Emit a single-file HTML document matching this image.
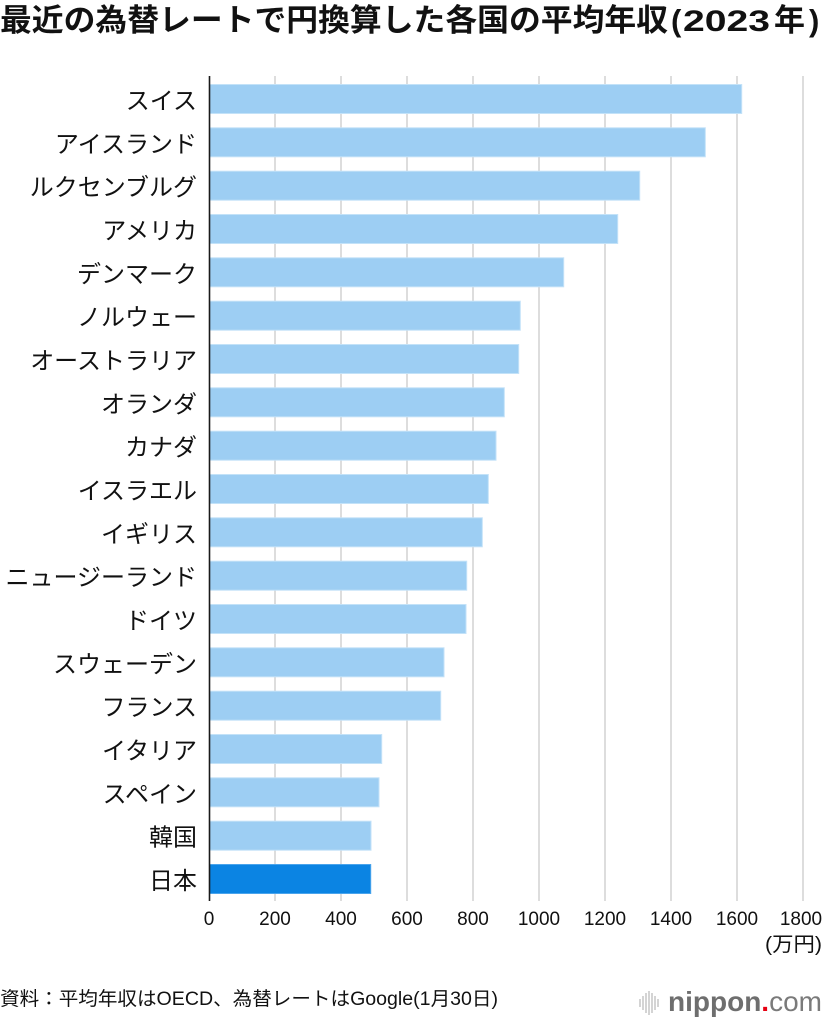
<!DOCTYPE html>
<html><head><meta charset="utf-8"><style>
html,body{margin:0;padding:0;background:#fff;}
svg{display:block;}
</style></head><body>
<svg width="828" height="1024" viewBox="0 0 828 1024" xmlns="http://www.w3.org/2000/svg">
<rect width="828" height="1024" fill="#fff"/>
<!-- title -->
<g font-family="'Liberation Sans','Noto Sans CJK JP',sans-serif" font-weight="bold" fill="#111">
<text x="0" y="31" font-size="31" textLength="668" lengthAdjust="spacingAndGlyphs">最近の為替レートで円換算した各国の平均年収</text>
<text x="671" y="31" font-size="31">(</text>
<text x="683" y="31" font-size="30" textLength="87" lengthAdjust="spacingAndGlyphs">2023</text>
<text x="774" y="31" font-size="31" font-family="'Noto Sans CJK JP',sans-serif">年</text>
<text x="809" y="31" font-size="31">)</text>
</g>
<!-- grid -->
<g stroke="#d2d2d2" stroke-width="1.5">
<line x1="275" y1="76" x2="275" y2="901"/>
<line x1="341" y1="76" x2="341" y2="901"/>
<line x1="407" y1="76" x2="407" y2="901"/>
<line x1="473" y1="76" x2="473" y2="901"/>
<line x1="539" y1="76" x2="539" y2="901"/>
<line x1="605" y1="76" x2="605" y2="901"/>
<line x1="671" y1="76" x2="671" y2="901"/>
<line x1="737" y1="76" x2="737" y2="901"/>
<line x1="803" y1="76" x2="803" y2="901"/>
</g>
<!-- bars -->
<g fill="#9dcef3" stroke="#c3e2f8" stroke-width="1">
<rect x="209.5" y="84.5" width="532.2" height="29"/>
<rect x="209.5" y="127.8" width="495.8" height="29"/>
<rect x="209.5" y="171.2" width="430.2" height="29"/>
<rect x="209.5" y="214.5" width="408.2" height="29"/>
<rect x="209.5" y="257.8" width="354.2" height="29"/>
<rect x="209.5" y="301.2" width="310.8" height="29"/>
<rect x="209.5" y="344.5" width="309.2" height="29"/>
<rect x="209.5" y="387.8" width="294.8" height="29"/>
<rect x="209.5" y="431.2" width="286.5" height="29"/>
<rect x="209.5" y="474.5" width="278.8" height="29"/>
<rect x="209.5" y="517.8" width="272.8" height="29"/>
<rect x="209.5" y="561.2" width="257.2" height="29"/>
<rect x="209.5" y="604.5" width="256.5" height="29"/>
<rect x="209.5" y="647.8" width="234.5" height="29"/>
<rect x="209.5" y="691.2" width="231.2" height="29"/>
<rect x="209.5" y="734.5" width="172.2" height="29"/>
<rect x="209.5" y="777.8" width="169.5" height="29"/>
<rect x="209.5" y="821.2" width="161.5" height="29"/>
</g>
<rect x="209.5" y="864.5" width="161.2" height="29" fill="#0b84e3" stroke="#4aa4ec" stroke-width="1"/>
<!-- axis -->
<line x1="209.5" y1="76" x2="209.5" y2="901" stroke="#1a1a1a" stroke-width="1.6"/>
<!-- labels -->
<g font-family="'Liberation Sans','Noto Sans CJK JP',sans-serif" font-size="24" fill="#111" text-anchor="end">
<text x="197" y="109">スイス</text>
<text x="197" y="152.3">アイスランド</text>
<text x="197" y="195.7">ルクセンブルグ</text>
<text x="197" y="239">アメリカ</text>
<text x="197" y="282.3">デンマーク</text>
<text x="197" y="325.7">ノルウェー</text>
<text x="197" y="369">オーストラリア</text>
<text x="197" y="412.3">オランダ</text>
<text x="197" y="455.7">カナダ</text>
<text x="197" y="499">イスラエル</text>
<text x="197" y="542.3">イギリス</text>
<text x="197" y="585.7">ニュージーランド</text>
<text x="197" y="629">ドイツ</text>
<text x="197" y="672.3">スウェーデン</text>
<text x="197" y="715.7">フランス</text>
<text x="197" y="759">イタリア</text>
<text x="197" y="802.3">スペイン</text>
<text x="197" y="845.7">韓国</text>
<text x="197" y="889">日本</text>
</g>
<!-- ticks -->
<g font-family="'Liberation Sans',sans-serif" font-size="19" fill="#111" text-anchor="middle">
<text x="209" y="925">0</text>
<text x="275" y="925">200</text>
<text x="341" y="925">400</text>
<text x="407" y="925">600</text>
<text x="473" y="925">800</text>
<text x="539" y="925">1000</text>
<text x="605" y="925">1200</text>
<text x="671" y="925">1400</text>
<text x="737" y="925">1600</text>
<text x="801" y="925">1800</text>
</g>
<text x="765" y="951" font-family="'Liberation Sans','Noto Sans CJK JP',sans-serif" font-size="20" fill="#111" textLength="57" lengthAdjust="spacingAndGlyphs">(万円)</text>
<!-- footer -->
<text x="0" y="1005" font-family="'Liberation Sans','Noto Sans CJK JP',sans-serif" font-size="19" fill="#111" textLength="498" lengthAdjust="spacingAndGlyphs">資料：平均年収はOECD、為替レートはGoogle(1月30日)</text>
<!-- logo -->
<g stroke="#c9c9c9" stroke-width="1.6">
<line x1="640" y1="999" x2="640" y2="1007"/>
<line x1="643" y1="996" x2="643" y2="1010"/>
<line x1="646" y1="993" x2="646" y2="1013"/>
<line x1="649" y1="991" x2="649" y2="1015"/>
<line x1="652" y1="993" x2="652" y2="1013"/>
<line x1="655" y1="996" x2="655" y2="1010"/>
<line x1="658" y1="999" x2="658" y2="1007"/>
</g>
<text x="668" y="1011" font-family="'Liberation Sans',sans-serif" font-size="28" font-weight="bold" fill="#6e6e6e">nippon<tspan fill="#e60012">.</tspan><tspan font-weight="normal" fill="#7a7a7a">com</tspan></text>
</svg>
</body></html>
